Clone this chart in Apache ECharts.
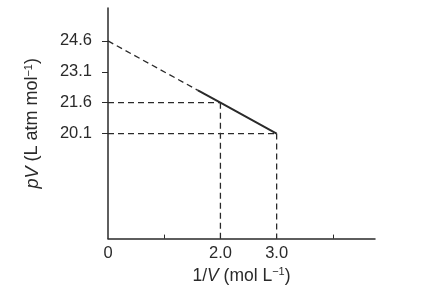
<!DOCTYPE html>
<html><head><meta charset="utf-8">
<script src="https://cdn.jsdelivr.net/npm/echarts@6/dist/echarts.min.js"></script>
<style>html,body{margin:0;padding:0;background:#fff}#c{width:440px;height:290px}</style>
</head><body><div id="c"></div>
<script>
// Data
var invV = [2.0, 3.0];            // 1/V (mol L^-1) of the marked points
var pV = [21.6, 20.1];            // pV (L atm mol^-1) of the marked points
var solidStart = [1.6, 22.2];     // where the solid (measured) part of the line begins
var interceptX = 0;               // extrapolation to 1/V = 0
var interceptY = 24.6;
var yTickValues = [20.1, 21.6, 23.1, 24.6];
var xLabelValues = [0, 2.0, 3.0];
var xTickValues = [1, 2, 3, 4];

var chart = echarts.init(document.getElementById('c'), null, {renderer: 'canvas'});
var ink = '#2a2a2a';
var dashed = {color: ink, width: 1.3, type: [6, 4]};
var font = 'Liberation Sans';

var series = [
  // extrapolated dashed part
  {type: 'line', data: [[interceptX, interceptY], solidStart], symbol: 'none', lineStyle: dashed, silent: true},
  // measured solid part
  {type: 'line', data: [solidStart].concat(invV.map(function (x, i) { return [x, pV[i]]; })), symbol: 'none', lineStyle: {color: ink, width: 2}, silent: true}
];
// guide lines
invV.forEach(function (x, i) {
  series.push({type: 'line', data: [[0, pV[i]], [x, pV[i]]], symbol: 'none', lineStyle: dashed, silent: true});
  series.push({type: 'line', data: [[x, pV[i]], [x, 15]], symbol: 'none', lineStyle: dashed, silent: true});
});

function nameStyle(size) {
  return {color: ink, fontSize: size, fontFamily: font,
    rich: {i: {fontStyle: 'italic', fontSize: size, color: ink, fontFamily: font},
           s: {fontSize: 11, color: ink, verticalAlign: 'top', padding: [0, 0, 8, 0], fontFamily: font}}};
}

chart.setOption({
  animation: false,
  grid: {left: 108, right: 65, top: 8, bottom: 48},
  xAxis: {
    type: 'value', min: 0, max: 4.75,
    name: '1/{i|V} (mol L{s|−1})',
    nameLocation: 'middle', nameGap: 17,
    nameTextStyle: nameStyle(17.5),
    axisLine: {lineStyle: {color: ink, width: 1.5}},
    splitLine: {show: false},
    axisTick: {customValues: xTickValues, length: 4, inside: true, lineStyle: {color: ink}},
    axisLabel: {customValues: xLabelValues, color: ink, fontSize: 16.5, fontFamily: font, margin: 6,
      formatter: function (v) { return v === 0 ? '0' : v.toFixed(1); }}
  },
  yAxis: {
    type: 'value', min: 15, max: 26.2,
    name: '{i|pV} (L atm mol{s|−1})',
    nameLocation: 'middle', nameGap: 66, nameRotate: 90,
    nameTextStyle: nameStyle(18),
    axisLine: {show: true, lineStyle: {color: ink, width: 1.5}},
    splitLine: {show: false},
    axisTick: {customValues: yTickValues, length: 6, lineStyle: {color: ink}},
    axisLabel: {customValues: yTickValues, color: ink, fontSize: 16.5, fontFamily: font, margin: 16,
      formatter: function (v) { return v.toFixed(1); }}
  },
  series: series
});
</script></body></html>
